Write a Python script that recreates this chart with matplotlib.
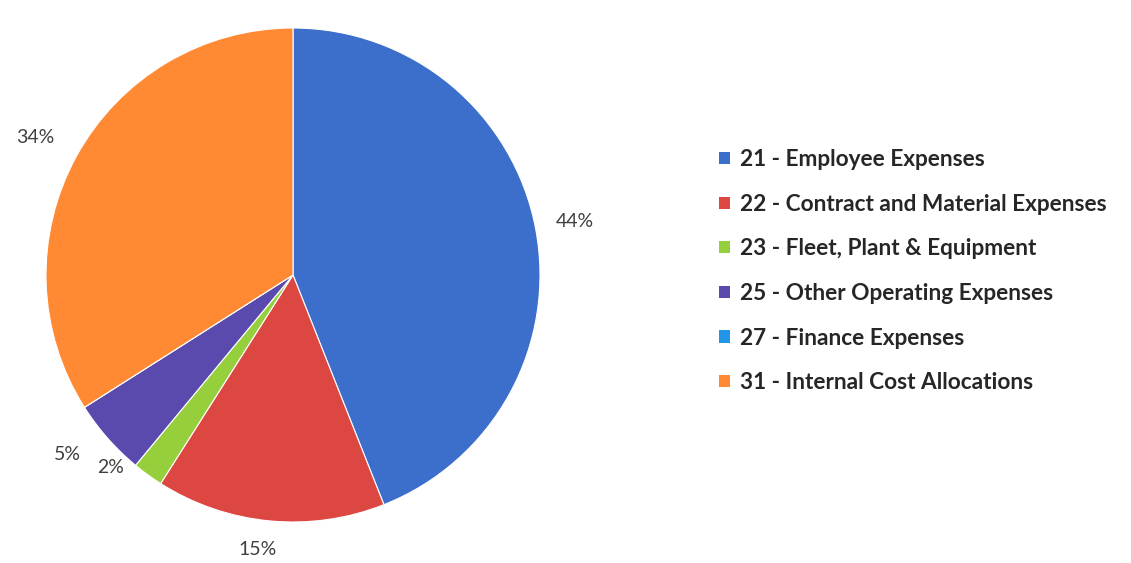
import matplotlib
matplotlib.use("Agg")
import matplotlib.pyplot as plt
from matplotlib.patches import Patch
import numpy as np

# Expense shares by account group (percent)
categories = [
    "21 - Employee Expenses",
    "22 - Contract and Material Expenses",
    "23 - Fleet, Plant & Equipment",
    "25 - Other Operating Expenses",
    "27 - Finance Expenses",
    "31 - Internal Cost Allocations",
]
shares = [44, 15, 2, 5, 0, 34]

colors = ["#3B6FCB", "#DD4742", "#96CF3C", "#5B4AAE", "#2196E8", "#FF8A33"]
# radial distance and angular nudge (degrees) of each percentage label
label_radius = [1.16, 1.12, 1.075, 1.165, 1.1, 1.185]
label_shift = [0.0, -1.9, -7.5, -2.9, 0.0, 0.7]

fig = plt.figure(figsize=(11.31, 5.63), dpi=100)
W, H = 1131, 563
cx, cy, r = 293, 563 - 275, 247
ax = fig.add_axes([(cx - r) / W, (cy - r) / H, 2 * r / W, 2 * r / H])

wedges, _ = ax.pie(shares, colors=colors, startangle=90, counterclock=False,
                   radius=1.0, wedgeprops=dict(linewidth=0.8, edgecolor="white"))
ax.set_xlim(-1, 1)
ax.set_ylim(-1, 1)
ax.set_aspect("equal")
ax.axis("off")

# Percentage labels placed outside each non-empty slice
for w, val, lr, sh in zip(wedges, shares, label_radius, label_shift):
    if val == 0:
        continue
    ang = np.deg2rad((w.theta1 + w.theta2) / 2 + sh)
    ax.text(lr * np.cos(ang), lr * np.sin(ang), f"{val}%",
            ha="center", va="center", fontsize=14, color="#404040",
            family="Lato", clip_on=False)

handles = [Patch(facecolor=c, edgecolor="none") for c in colors]
fig.legend(handles, categories, loc="upper left",
           bbox_to_anchor=(699 / W, 1 - 129 / H), frameon=False,
           prop=dict(family="Lato", weight="bold", size=16.3),
           labelcolor="#262626", handlelength=0.45, handleheight=0.45,
           handletextpad=0.45, labelspacing=1.04)

fig.savefig("out.png", dpi=100)
